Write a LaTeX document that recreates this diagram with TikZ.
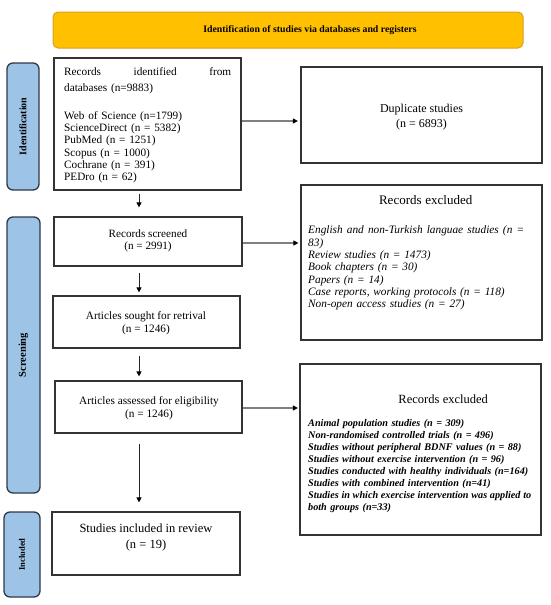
\documentclass[tikz,border=0pt]{standalone}
\usepackage{fontspec}
\setmainfont{Liberation Serif}
\usetikzlibrary{arrows.meta}
\definecolor{bannerfill}{HTML}{FFC000}
\definecolor{bannerline}{HTML}{D8A020}
\definecolor{sidefill}{HTML}{9DC3E6}
\definecolor{sideline}{HTML}{2E3A48}
\definecolor{boxline}{HTML}{333333}
\definecolor{arrowgray}{HTML}{808080}
\newcommand\spreadline[2]{\leavevmode\hbox to #1{\spaceskip=0.25em plus 1fil\relax #2}}
\begin{document}
\begin{tikzpicture}[x=1pt,y=-1pt,
  box/.style={draw=boxline,line width=1.2pt,fill=white,inner sep=0pt},
  sidebox/.style={draw=sideline,line width=1.3pt,fill=sidefill,rounded corners=6pt,inner sep=0pt},
  sidelabel/.style={rotate=90,inner sep=0pt,font=\bfseries\fontsize{10}{12}\selectfont},
  txt/.style={inner sep=0pt,align=center},
  harr/.style={draw=arrowgray,line width=1.1pt,-{Triangle[length=5pt,width=5pt,color=black]}},
  varr/.style={draw=black!85,line width=0.9pt,-{Triangle[length=5pt,width=5pt,color=black]}},
]
\useasboundingbox[fill=white] (0,0) rectangle (550,605);

% banner
\node[draw=bannerline,line width=1pt,fill=bannerfill,rounded corners=5pt,minimum width=470pt,minimum height=36pt,inner sep=0pt] (banner) at (288,30) {};
\node[txt,font=\bfseries\fontsize{9.8}{12}\selectfont] (bannertext) at (310,30) {Identification of studies via databases and registers};

% side bars
\node[sidebox,minimum width=32pt,minimum height=127pt] (sideI) at (23,126.5) {};
\node[sidelabel] (sideItext) at (sideI.center) {Identification};
\node[sidebox,minimum width=33pt,minimum height=276pt] (sideS) at (23.5,355) {};
\node[sidelabel,font=\bfseries\fontsize{10.5}{12}\selectfont] (sideStext) at (sideS.center) {Screening};
\node[sidebox,minimum width=36pt,minimum height=85pt] (sideN) at (22,554.5) {};
\node[sidelabel,font=\bfseries\fontsize{8.5}{10}\selectfont] (sideNtext) at (sideN.center) {Included};

% boxes
\node[box,minimum width=187pt,minimum height=132pt] (rid) at (147.5,124) {};
\node[box,minimum width=241pt,minimum height=96pt] (dup) at (421.5,115) {};
\node[box,minimum width=188pt,minimum height=49pt] (scr) at (148,241.5) {};
\node[box,minimum width=241pt,minimum height=155pt] (exc1) at (421.5,262.5) {};
\node[box,minimum width=187pt,minimum height=52pt] (sou) at (146.5,322) {};
\node[box,minimum width=187pt,minimum height=52pt] (ass) at (148.5,407) {};
\node[box,minimum width=241pt,minimum height=171pt] (exc2) at (420.5,449.5) {};
\node[box,minimum width=188pt,minimum height=63pt] (inc) at (146,543.5) {};

% texts
\node[inner sep=0pt,anchor=north west,text width=167pt,align=left,font=\fontsize{11.25}{12.3}\selectfont] (ridtext) at (64,67)
 {\spreadline{167pt}{Records identified from}\\[3.7pt]
  databases (n=9883)\\[15.7pt]
  Web of Science (n=1799)\\
  ScienceDirect (n = 5382)\\
  PubMed (n = 1251)\\
  Scopus (n = 1000)\\
  Cochrane (n = 391)\\
  PEDro (n = 62)};
\node[txt,font=\fontsize{12}{15}\selectfont] (duptext) at (421.5,117.5) {Duplicate studies\\(n = 6893)};
\node[txt,font=\fontsize{11.2}{12}\selectfont] (scrtext) at (148,241) {Records screened\\(n = 2991)};
\node[txt,font=\fontsize{11.3}{13}\selectfont] (soutext) at (146,323.5) {Articles sought for retrival\\(n = 1246)};
\node[txt,font=\fontsize{11.3}{13}\selectfont] (asstext) at (149,408.5) {Articles assessed for eligibility\\(n = 1246)};
\node[txt,font=\fontsize{12.5}{16}\selectfont] (inctext) at (146,537) {Studies included in review\\(n = 19)};

\node[inner sep=0pt,anchor=north west,text width=224pt,align=left,font=\itshape\fontsize{11.3}{12.3}\selectfont] (exc1text) at (308,195.4)
 {\makebox[224pt]{\hspace{11pt}\upshape\fontsize{13}{13}\selectfont Records excluded}\\[16.9pt]
  \spreadline{216pt}{English and non-Turkish languae studies (n =}\\
  83)\\
  Review studies (n = 1473)\\
  Book chapters (n = 30)\\
  Papers (n = 14)\\
  Case reports, working protocols (n = 118)\\
  Non-open access studies (n = 27)};

\node[inner sep=0pt,anchor=north west,text width=224pt,align=left,font=\bfseries\itshape\fontsize{10.2}{12}\selectfont] (exc2text) at (308,394.6)
 {\makebox[224pt]{\hspace{46pt}\mdseries\upshape\fontsize{12.5}{12.5}\selectfont Records excluded}\\[11.2pt]
  Animal population studies (n = 309)\\
  Non-randomised controlled trials (n = 496)\\
  Studies without peripheral BDNF values (n = 88)\\
  Studies without exercise intervention (n = 96)\\
  Studies conducted with healthy individuals (n=164)\\
  Studies with combined intervention (n=41)\\
  \spreadline{223pt}{Studies in which exercise intervention was applied to}\\
  both groups (n=33)};

% connectors
\coordinate (h1) at (0,121);
\coordinate (h2) at (0,243);
\coordinate (h3) at (0,408);
\coordinate (vx) at (139,0);
\draw[harr,shorten >=2.5pt] (rid.east |- h1) -- (dup.west |- h1);
\draw[harr,shorten >=2pt] (scr.east |- h2) -- (exc1.west |- h2);
\draw[harr,shorten >=1.5pt] (ass.east |- h3) -- (exc2.west |- h3);
\draw[varr,shorten <=3pt,shorten >=9pt] (rid.south -| vx) -- (scr.north -| vx);
\draw[varr,shorten <=6pt,shorten >=3pt] (scr.south -| vx) -- (sou.north -| vx);
\draw[varr,shorten <=7pt,shorten >=4pt] (sou.south -| vx) -- (ass.north -| vx);
\draw[varr,shorten <=10pt,shorten >=9pt] (ass.south -| vx) -- (inc.north -| vx);
\end{tikzpicture}
\end{document}
